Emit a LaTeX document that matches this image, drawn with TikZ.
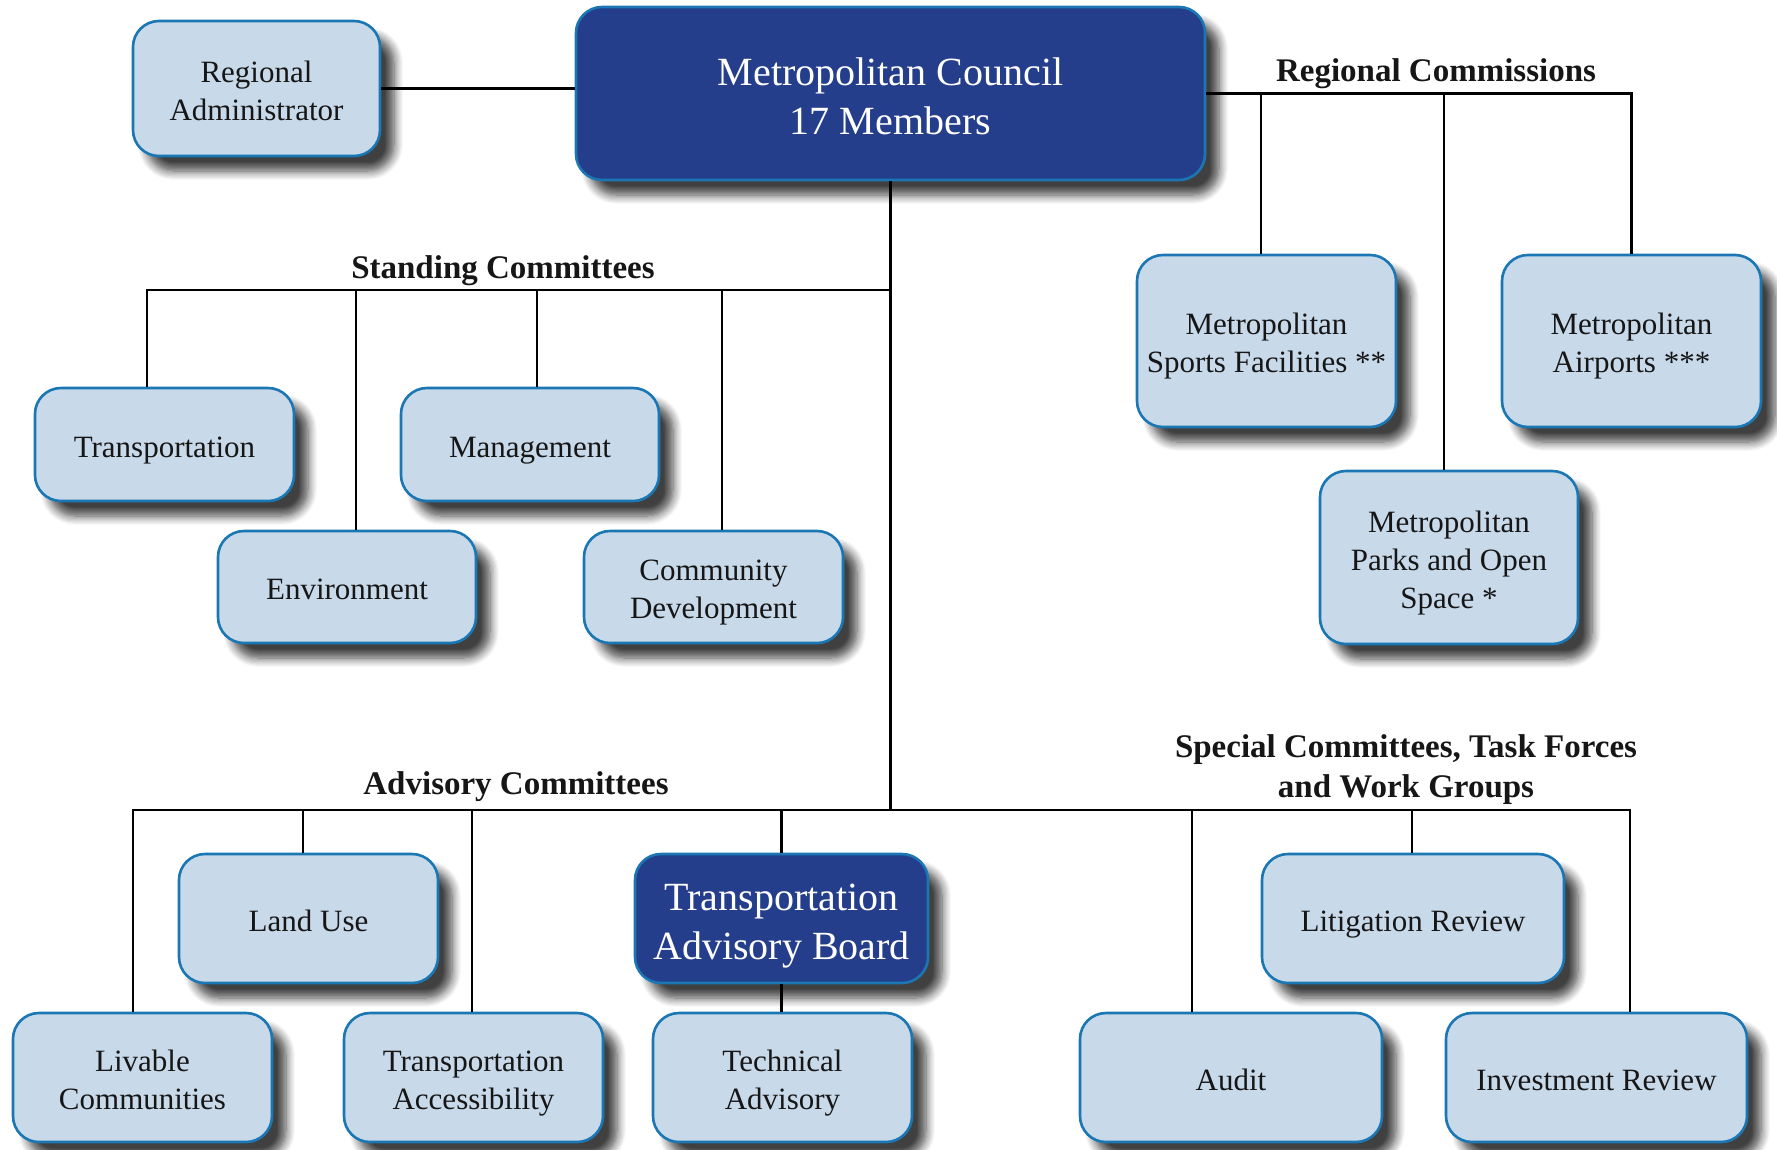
\documentclass[tikz,border=0pt]{standalone}
\usepackage{fontspec}
\setmainfont{Liberation Serif}
\usetikzlibrary{shadows.blur}
\definecolor{boxfill}{RGB}{200,217,233}
\definecolor{boxedge}{RGB}{27,119,180}
\definecolor{darkfill}{RGB}{36,62,140}
\definecolor{txt}{RGB}{22,22,22}
\newcommand\ust{\rule{0pt}{1.05em}}
\newcommand\dst{\rule[-0.225em]{0pt}{0.225em}}
\tikzset{
 org/.style={rectangle, rounded corners=26pt, draw=boxedge, line width=2.6pt, align=center, inner sep=0pt,
   blur shadow={shadow xshift=14pt, shadow yshift=-15pt, shadow blur radius=9pt, shadow opacity=75, shadow blur steps=8}},
 light/.style={org, fill=boxfill, text=txt, font=\fontsize{31}{38}\selectfont},
 dark/.style={org, fill=darkfill, text=white, font=\fontsize{40}{49}\selectfont},
 grp/.style={font=\bfseries\fontsize{33}{40}\selectfont, text=txt, align=center, inner sep=0pt},
 conn/.style={line width=2.4pt, black},
}
\begin{document}
\begin{tikzpicture}[x=1pt, y=-1pt]
\useasboundingbox (0,0) rectangle (1777,1149);
% top
\node[dark, minimum width=629pt, minimum height=173pt] (mc) at (890.5,93.5) {\ust Metropolitan Council\\17 Members\dst};
\node[light, minimum width=247pt, minimum height=135pt] (ra) at (256.5,88.5) {\ust Regional\\Administrator\dst};
% regional commissions
\node[light, minimum width=259pt, minimum height=172pt] (sports) at (1266.5,341) {\ust Metropolitan\\Sports Facilities **\dst};
\node[light, minimum width=259pt, minimum height=172pt] (airports) at (1631.5,341) {\ust Metropolitan\\Airports ***\dst};
\node[light, minimum width=258pt, minimum height=173pt] (parks) at (1449,557.5) {\ust Metropolitan\\Parks and Open\\Space *\dst};
% standing committees
\node[light, minimum width=259pt, minimum height=113pt] (trans) at (164.5,444.5) {\ust Transportation\dst};
\node[light, minimum width=258pt, minimum height=113pt] (mgmt) at (530,444.5) {\ust Management\dst};
\node[light, minimum width=258pt, minimum height=112pt] (env) at (347,587) {\ust Environment\dst};
\node[light, minimum width=259pt, minimum height=112pt] (cd) at (713.5,587) {\ust Community\\Development\dst};
% advisory committees
\node[light, minimum width=259pt, minimum height=129pt] (landuse) at (308.5,918.5) {\ust Land Use\dst};
\node[dark, minimum width=293pt, minimum height=129pt] (tab) at (781.5,918.5) {\ust Transportation\\Advisory Board\dst};
\node[light, minimum width=259pt, minimum height=129pt] (livable) at (142.5,1077.5) {\ust Livable\\Communities\dst};
\node[light, minimum width=259pt, minimum height=129pt] (ta) at (473.5,1077.5) {\ust Transportation\\Accessibility\dst};
\node[light, minimum width=259pt, minimum height=129pt] (tech) at (782.5,1077.5) {\ust Technical\\Advisory\dst};
% special committees
\node[light, minimum width=302pt, minimum height=129pt] (lit) at (1413,918.5) {\ust Litigation Review\dst};
\node[light, minimum width=302pt, minimum height=129pt] (audit) at (1231,1077.5) {\ust Audit\dst};
\node[light, minimum width=301pt, minimum height=129pt] (inv) at (1596.5,1077.5) {\ust Investment Review\dst};
% group labels
\node[grp] (lrc) at (1436,74) {Regional Commissions};
\node[grp] (lsc) at (503,271) {Standing Committees};
\node[grp] (lac) at (516,787) {Advisory Committees};
\node[grp] (lsp) at (1406,770) {Special Committees, Task Forces\\and Work Groups};
% bus coordinates
\coordinate (sb) at (890.5,290);
\coordinate (ab) at (890.5,810);
% connectors
\draw[conn] (ra.east) -- (ra.east -| mc.west);
\draw[conn] (mc.east) -| (airports.north);
\draw[conn] ([xshift=-5.5pt]sports.north) -- ([xshift=-5.5pt]sports.north |- mc.east);
\draw[conn] ([xshift=-5pt]parks.north) -- ([xshift=-5pt]parks.north |- mc.east);
\draw[conn] (mc.south) -- (ab);
\draw[conn] ([xshift=-17.5pt]trans.north) |- (sb);
\draw[conn] ([xshift=9pt]env.north) -- ([xshift=9pt]env.north |- sb);
\draw[conn] ([xshift=7pt]mgmt.north) -- ([xshift=7pt]mgmt.north |- sb);
\draw[conn] ([xshift=8.5pt]cd.north) -- ([xshift=8.5pt]cd.north |- sb);
\draw[conn] ([xshift=-9.5pt]livable.north) |- (ab);
\draw[conn] (ab) -| ([xshift=33.5pt]inv.north);
\draw[conn] ([xshift=-5.5pt]landuse.north) -- ([xshift=-5.5pt]landuse.north |- ab);
\draw[conn] ([xshift=-1.5pt]ta.north) -- ([xshift=-1.5pt]ta.north |- ab);
\draw[conn] (tab.north) -- (tab.north |- ab);
\draw[conn] (tab.south) -- (tab.south |- tech.north);
\draw[conn] ([xshift=-39pt]audit.north) -- ([xshift=-39pt]audit.north |- ab);
\draw[conn] ([xshift=-1pt]lit.north) -- ([xshift=-1pt]lit.north |- ab);
\end{tikzpicture}
\end{document}
